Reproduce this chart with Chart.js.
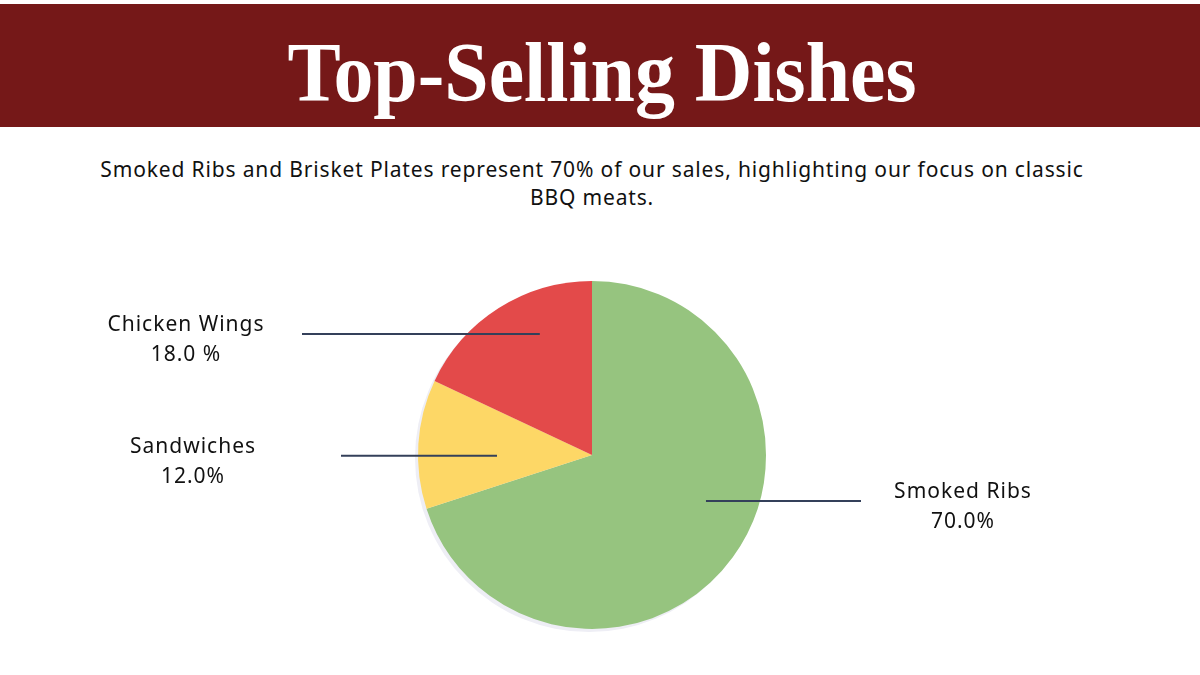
<!DOCTYPE html>
<html>
<head>
<meta charset="utf-8">
<script src="https://cdn.jsdelivr.net/npm/chart.js@4"></script>
<style>
  html, body { margin: 0; padding: 0; background: #fff; }
  body { width: 1200px; height: 675px; position: relative; overflow: hidden; font-family: "Noto Sans", sans-serif; }
  .band { position: absolute; left: 0; top: 4px; width: 1200px; height: 123px; background: #751818; }
  .band h1 { margin: 0; position: absolute; left: 0; right: 0; top: 24px; text-align: center; color: #fff;
    font-family: "Liberation Serif", "DejaVu Serif", serif; font-weight: bold; font-size: 84px; line-height: 90px;
    transform: translateX(2px) scaleX(0.95); }
  .sub { position: absolute; left: 40px; width: 1104px; top: 155px; text-align: center; color: #111;
    font-size: 21px; line-height: 28px; letter-spacing: 0.85px; }
  #chart { position: absolute; left: 0; top: 0; }
</style>
</head>
<body>
<div class="band"><h1>Top-Selling Dishes</h1></div>
<div class="sub">Smoked Ribs and Brisket Plates represent 70% of our sales, highlighting our focus on classic<br>BBQ meats.</div>
<canvas id="chart" width="1200" height="675"></canvas>
<script>
// dados do gráfico
const dishes = ['Smoked Ribs', 'Sandwiches', 'Chicken Wings'];
const shares = [70, 12, 18];
const shareLabels = ['70.0%', '12.0%', '18.0 %'];
const sliceColors = ['#96C47F', '#FDD766', '#E34A4A'];

// posição das legendas (relativa ao centro / raio da pizza)
const callouts = [
  { dx: 0.655, dy: 0.264, outerX: 861, textX: 963 },
  { dx: -0.546, dy: 0.005, outerX: 341, textX: 193 },
  { dx: -0.30, dy: -0.695, outerX: 302, textX: 186 },
];

// sombra clarinha atrás da pizza
const pieShadow = {
  id: 'pieShadow',
  beforeDatasetsDraw(chart) {
    const arc = chart.getDatasetMeta(0).data[0];
    if (!arc) return;
    const ctx = chart.ctx;
    ctx.save();
    ctx.beginPath();
    ctx.arc(arc.x - 3, arc.y + 3, arc.outerRadius, 0, Math.PI * 2);
    ctx.fillStyle = '#eeeef5';
    ctx.fill();
    ctx.restore();
  }
};

// linhas e textos das fatias
const calloutPlugin = {
  id: 'callouts',
  afterDatasetsDraw(chart) {
    const ctx = chart.ctx;
    const meta = chart.getDatasetMeta(0);
    meta.data.forEach((arc, i) => {
      const c = callouts[i];
      const r = arc.outerRadius;
      const x0 = arc.x + c.dx * r;
      const y0 = arc.y + c.dy * r;
      ctx.save();
      ctx.strokeStyle = '#34405A';
      ctx.lineWidth = 2;
      ctx.beginPath();
      ctx.moveTo(x0, y0);
      ctx.lineTo(c.outerX, y0);
      ctx.stroke();
      ctx.fillStyle = '#111';
      ctx.font = '21px "Noto Sans", sans-serif';
      ctx.letterSpacing = '1px';
      ctx.textAlign = 'center';
      ctx.textBaseline = 'middle';
      ctx.fillText(chart.data.labels[i], c.textX, y0 - 9);
      ctx.fillText(shareLabels[i], c.textX, y0 + 21);
      ctx.restore();
    });
  }
};

new Chart(document.getElementById('chart'), {
  type: 'pie',
  data: {
    labels: dishes,
    datasets: [{
      data: shares,
      backgroundColor: sliceColors,
      borderWidth: 0,
    }],
  },
  options: {
    responsive: false,
    animation: false,
    layout: { padding: { left: 418, right: 434, top: 281, bottom: 46 } },
    plugins: {
      legend: { display: false },
      tooltip: { enabled: false },
    },
  },
  plugins: [pieShadow, calloutPlugin],
});
</script>
</body>
</html>
